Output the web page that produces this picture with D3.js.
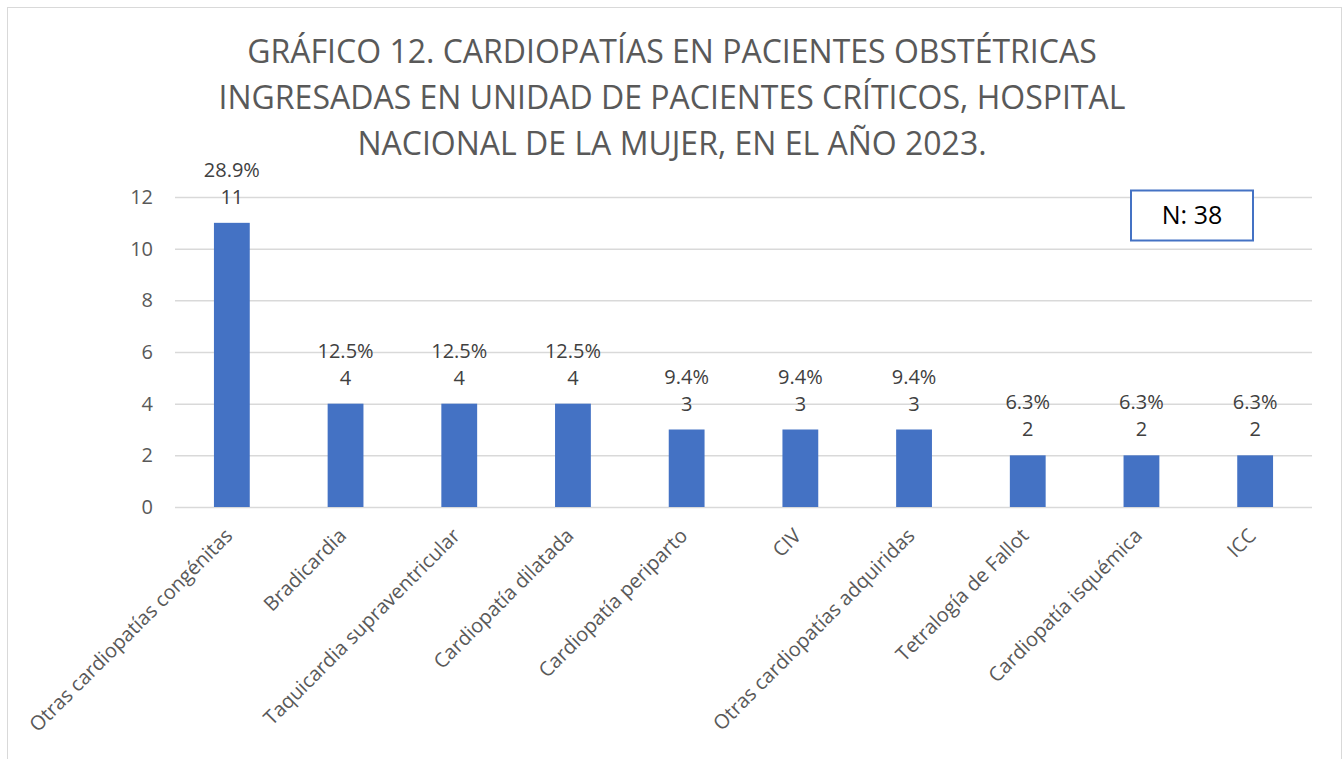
<!DOCTYPE html>
<html>
<head>
<meta charset="utf-8">
<script src="https://cdn.jsdelivr.net/npm/d3@7"></script>
<style>
  body { margin: 0; background: #fff; }
  text { font-family: "Open Sans", sans-serif; }
</style>
</head>
<body>
<div id="chart"></div>
<script>
// Data
const categories = ["Otras cardiopatías congénitas", "Bradicardia", "Taquicardia supraventricular",
  "Cardiopatía dilatada", "Cardiopatía periparto", "CIV", "Otras cardiopatías adquiridas",
  "Tetralogía de Fallot", "Cardiopatía isquémica", "ICC"];
const counts = [11, 4, 4, 4, 3, 3, 3, 2, 2, 2];
const percents = ["28.9%", "12.5%", "12.5%", "12.5%", "9.4%", "9.4%", "9.4%", "6.3%", "6.3%", "6.3%"];
const yTicks = [0, 2, 4, 6, 8, 10, 12];
const titleLines = ["GRÁFICO 12. CARDIOPATÍAS EN PACIENTES OBSTÉTRICAS",
  "INGRESADAS EN UNIDAD DE PACIENTES CRÍTICOS, HOSPITAL",
  "NACIONAL DE LA MUJER, EN EL AÑO 2023."];
const totalLabel = "N: 38";

const width = 1344, height = 759;
const margin = { left: 175, right: 32, top: 197, bottom: 252 };

const svg = d3.select("#chart").append("svg")
  .attr("width", width)
  .attr("height", height);

// chart border
svg.append("rect")
  .attr("x", 7.5).attr("y", 7.5)
  .attr("width", 1334).attr("height", 780)
  .attr("fill", "#fff")
  .attr("stroke", "#d9d9d9");

// Title
svg.append("g").selectAll("text")
  .data(titleLines)
  .enter().append("text")
    .attr("x", 672)
    .attr("y", (d, i) => 63 + i * 46)
    .attr("text-anchor", "middle")
    .attr("font-size", 32)
    .attr("fill", "#595959")
    .text(d => d);

var x = d3.scaleBand()
  .domain(categories)
  .range([margin.left, width - margin.right])
  .paddingInner(0.685)
  .paddingOuter(0.3425);

var y = d3.scaleLinear()
  .domain([0, 12])
  .range([height - margin.bottom, margin.top]);

// gridlines
svg.append("g").selectAll("line")
  .data(yTicks)
  .enter().append("line")
    .attr("x1", margin.left)
    .attr("x2", width - margin.right)
    .attr("y1", d => y(d) + 0.5)
    .attr("y2", d => y(d) + 0.5)
    .attr("stroke", "#d9d9d9")
    .attr("stroke-width", 1.5);

// y axis labels
var yAxis = svg.append("g")
  .attr("transform", "translate(" + (margin.left) + ",0)")
  .call(d3.axisLeft(y).tickValues(yTicks).tickSize(0).tickPadding(22));
yAxis.select(".domain").remove();
yAxis.selectAll("text")
  .attr("font-family", "Open Sans, sans-serif")
  .attr("font-size", 20)
  .attr("fill", "#595959");

// bars
svg.append("g").selectAll("rect")
  .data(counts)
  .enter().append("rect")
    .attr("x", (d, i) => x(categories[i]))
    .attr("y", d => y(d))
    .attr("width", x.bandwidth())
    .attr("height", d => y(0) - y(d))
    .attr("fill", "#4472c4");

// data labels
var labels = svg.append("g").selectAll("g")
  .data(counts)
  .enter().append("g")
    .attr("transform", (d, i) => "translate(" + (x(categories[i]) + x.bandwidth() / 2) + "," + y(d) + ")");
labels.append("text")
  .attr("y", -46)
  .attr("text-anchor", "middle")
  .attr("font-size", 20)
  .attr("fill", "#404040")
  .text((d, i) => percents[i]);
labels.append("text")
  .attr("y", -19)
  .attr("text-anchor", "middle")
  .attr("font-size", 20)
  .attr("fill", "#404040")
  .text(d => d);

// x axis labels
var xAxis = svg.append("g")
  .attr("transform", "translate(0," + y(0) + ")")
  .call(d3.axisBottom(x).tickSize(0).tickPadding(0));
xAxis.select(".domain").remove();
xAxis.selectAll("text")
  .attr("font-family", "Open Sans, sans-serif")
  .attr("font-size", 20)
  .attr("fill", "#595959")
  .attr("text-anchor", "end")
  .attr("dy", "0")
  .attr("transform", "translate(2,30) rotate(-45)");

// N box
svg.append("rect")
  .attr("x", 1131).attr("y", 190.5)
  .attr("width", 122).attr("height", 50)
  .attr("fill", "#fff")
  .attr("stroke", "#4472c4")
  .attr("stroke-width", 2);
svg.append("text")
  .attr("x", 1192).attr("y", 224)
  .attr("text-anchor", "middle")
  .attr("font-size", 25)
  .attr("fill", "#000")
  .text(totalLabel);
</script>
</body>
</html>
